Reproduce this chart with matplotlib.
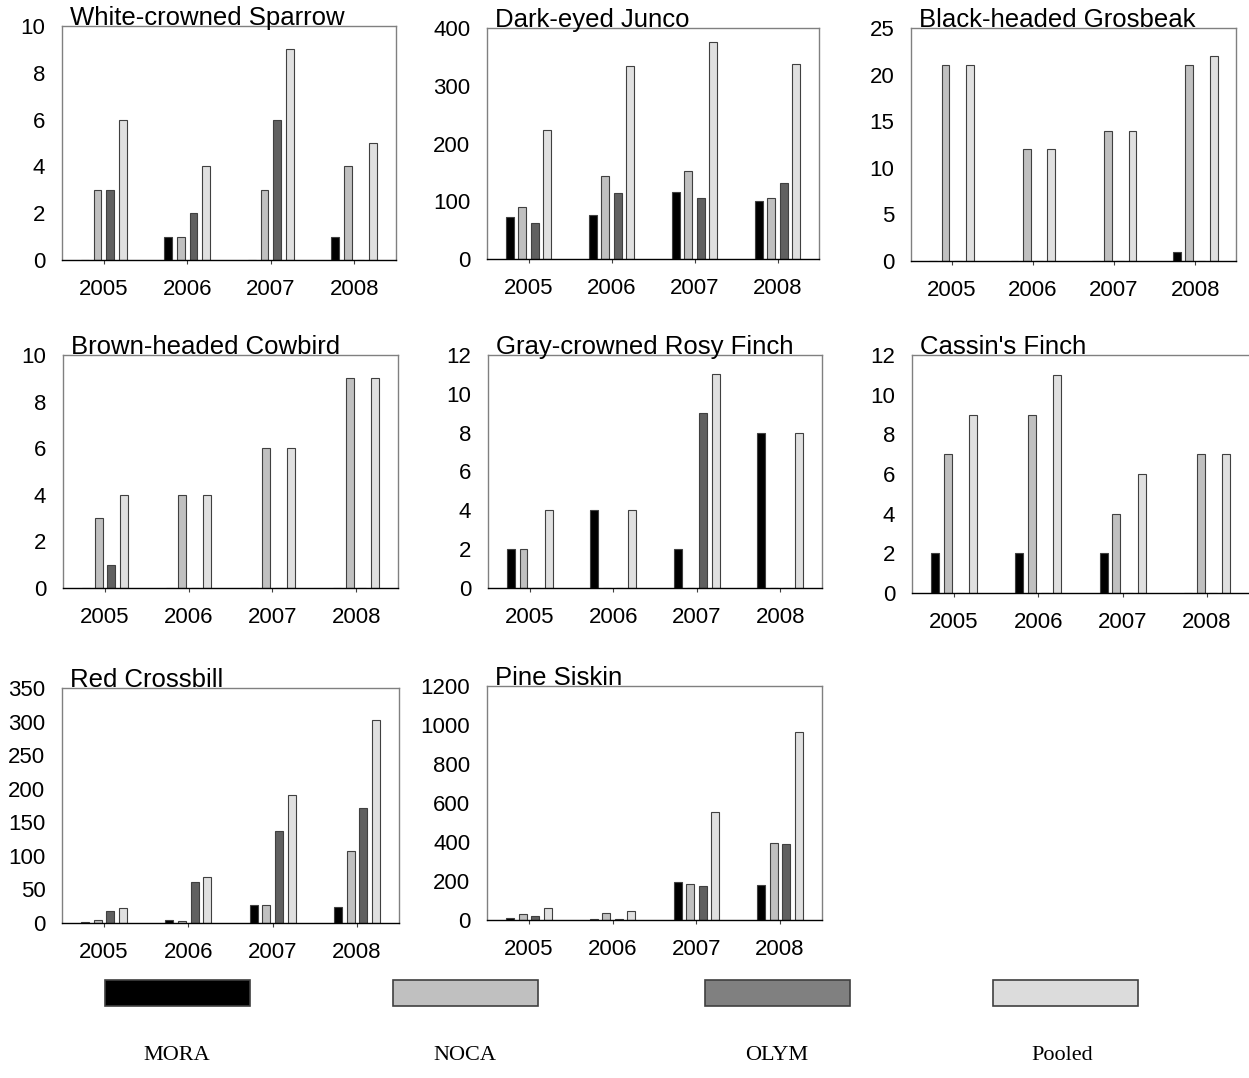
import matplotlib
matplotlib.use("Agg")
import matplotlib.pyplot as plt
from matplotlib.patches import Rectangle
import numpy as np

plt.rcParams['font.family'] = ['Liberation Sans', 'DejaVu Sans']

years = ["2005", "2006", "2007", "2008"]
series_names = ["MORA", "NOCA", "OLYM", "Pooled"]
bar_colors = ["#000000", "#c0c0c0", "#606060", "#e0e0e0"]
legend_colors = ["#000000", "#c0c0c0", "#808080", "#dcdcdc"]

species = ["White-crowned Sparrow", "Dark-eyed Junco", "Black-headed Grosbeak",
           "Brown-headed Cowbird", "Gray-crowned Rosy Finch", "Cassin's Finch",
           "Red Crossbill", "Pine Siskin"]

wcsp = [[0, 1, 0, 1], [3, 1, 3, 4], [3, 2, 6, 0], [6, 4, 9, 5]]
deju = [[72, 77, 116, 101], [90, 143, 153, 106], [62, 114, 106, 131], [224, 334, 375, 338]]
bhgr = [[0, 0, 0, 1], [21, 12, 14, 21], [0, 0, 0, 0], [21, 12, 14, 22]]
bhco = [[0, 0, 0, 0], [3, 4, 6, 9], [1, 0, 0, 0], [4, 4, 6, 9]]
gcrf = [[2, 4, 2, 8], [2, 0, 0, 0], [0, 0, 9, 0], [4, 4, 11, 8]]
cafi = [[2, 2, 2, 0], [7, 9, 4, 7], [0, 0, 0, 0], [9, 11, 6, 7]]
recr = [[1, 5, 27, 24], [4, 3, 27, 107], [18, 61, 137, 172], [23, 69, 191, 303]]
pisi = [[10, 5, 193, 177], [30, 38, 187, 393], [20, 3, 173, 390], [60, 46, 553, 963]]

datasets = [wcsp, deju, bhgr, bhco, gcrf, cafi, recr, pisi]
y_max = [10, 400, 25, 10, 12, 12, 350, 1200]
y_step = [2, 100, 5, 2, 2, 2, 50, 200]

W, H = 1249, 1078
fig = plt.figure(figsize=(W / 100, H / 100), dpi=100)

# axes boxes in pixel coords: left, top, right, bottom
boxes = [
    (62, 26, 396, 260), (487, 28, 819, 259), (911, 28, 1236, 261),
    (63, 355, 398, 588), (488, 355, 822, 588), (912, 355, 1249, 593),
    (62, 688, 399, 923), (487, 686, 822, 920),
]

offsets = np.array([-1.5, -0.5, 0.5, 1.5]) * 0.15
width = 0.095
x = np.arange(len(years))

for i, (name, data) in enumerate(zip(species, datasets)):
    l, t, r, b = boxes[i]
    ax = fig.add_axes([l / W, 1 - b / H, (r - l) / W, (b - t) / H])
    for k in range(4):
        ax.bar(x + offsets[k], data[k], width=width, color=bar_colors[k],
               edgecolor="#404040", linewidth=0.8, zorder=2)
    ax.set_xlim(-0.5, 3.5)
    ax.set_ylim(0, y_max[i])
    ax.set_yticks(np.arange(0, y_max[i] + 1, y_step[i]))
    ax.set_xticks(x)
    ax.set_xticklabels(years)
    ax.tick_params(axis='y', length=0, pad=12, labelsize=16)
    ax.tick_params(axis='x', length=3, direction='out', pad=11, labelsize=16,
                   color="#404040")
    for s in ['left', 'top', 'right']:
        ax.spines[s].set_color("#808080")
        ax.spines[s].set_linewidth(1.0)
    ax.spines['bottom'].set_color("#000000")
    ax.spines['bottom'].set_linewidth(1.0)
    if i == 5:
        ax.spines['right'].set_visible(False)
    ax.text(0.025, 1.005, name, transform=ax.transAxes, fontsize=18.5,
            ha='left', va='baseline', zorder=5)

# legend
leg_x = [105, 393, 705, 993]
lab_x = [177, 465, 777, 1062]
for k in range(4):
    fig.patches.append(Rectangle((leg_x[k] / W, 1 - 1006 / H), 145 / W, 26 / H,
                                 transform=fig.transFigure, facecolor=legend_colors[k],
                                 edgecolor="#404040", linewidth=1.2))
    fig.text(lab_x[k] / W, 1 - 1056 / H, series_names[k], ha='center', va='center',
             fontsize=16, family=['Liberation Serif', 'DejaVu Serif'])

fig.savefig("out.png", dpi=100)
